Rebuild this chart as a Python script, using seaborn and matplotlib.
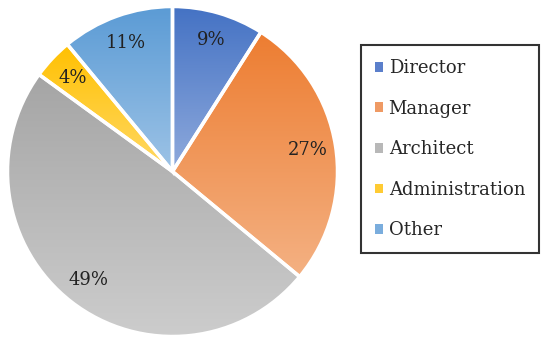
import numpy as np
import matplotlib
matplotlib.use("Agg")
import matplotlib.pyplot as plt
import matplotlib.colors as mcolors
import matplotlib.patches as mpatches
import seaborn as sns

# data
roles = ["Director", "Manager", "Architect", "Administration", "Other"]
shares = [9, 27, 49, 4, 11]

# gradient colours per slice (top -> bottom)
top_colors = ["#4472C4", "#ED7D31", "#A5A5A5", "#FFC000", "#5B9BD5"]
bottom_colors = ["#8FAADC", "#F4B183", "#CDCDCD", "#FFD966", "#9DC3E6"]
legend_colors = ["#5B7FCB", "#EF9A64", "#B8B8B8", "#FFCB33", "#7AADDD"]

sns.set_theme(style="white")
plt.rcParams["font.family"] = ["DejaVu Serif"]

fig = plt.figure(figsize=(5.5, 3.44), dpi=100)
ax = fig.add_axes([7.5 / 550, 7.5 / 344, 330 / 550, 330 / 344])

wedges, texts, autotexts = ax.pie(
    shares, startangle=90, counterclock=False,
    autopct="%1.0f%%", pctdistance=0.83, radius=1.0,
    wedgeprops=dict(edgecolor="white", linewidth=2.5),
    textprops=dict(fontsize=13, color="#222222"),
)

# vertical gradient inside each slice
for w, c1, c2 in zip(wedges, top_colors, bottom_colors):
    verts = w.get_path().vertices
    x0, y0 = verts.min(axis=0)
    x1, y1 = verts.max(axis=0)
    a = np.array(mcolors.to_rgb(c1))
    b = np.array(mcolors.to_rgb(c2))
    t = np.linspace(0, 1, 256).reshape(-1, 1, 1)
    img = a * (1 - t) + b * t
    img = np.repeat(img, 2, axis=1)
    im = ax.imshow(img, extent=[x0, x1, y0, y1], origin="upper",
                   aspect="auto", zorder=1, interpolation="bilinear")
    im.set_clip_path(w)
    w.set_facecolor("none")
    w.set_zorder(2)

for t in autotexts:
    t.set_zorder(3)

ax.set_xlim(-1.0, 1.0)
ax.set_ylim(-1.0, 1.0)
ax.set_aspect("equal")
ax.axis("off")

handles = [mpatches.Patch(facecolor=c, edgecolor="none") for c in legend_colors]
leg = fig.legend(
    handles, roles, loc="upper left",
    bbox_to_anchor=(361 / 550, 1 - 45 / 344),
    fontsize=13, frameon=True, fancybox=False,
    handlelength=0.45, handleheight=0.45, handletextpad=0.3,
    labelspacing=1.25, borderpad=0.78, borderaxespad=0,
)
leg.get_frame().set_edgecolor("black")
leg.get_frame().set_linewidth(1.5)

fig.savefig("out.png", dpi=100, facecolor="white")
